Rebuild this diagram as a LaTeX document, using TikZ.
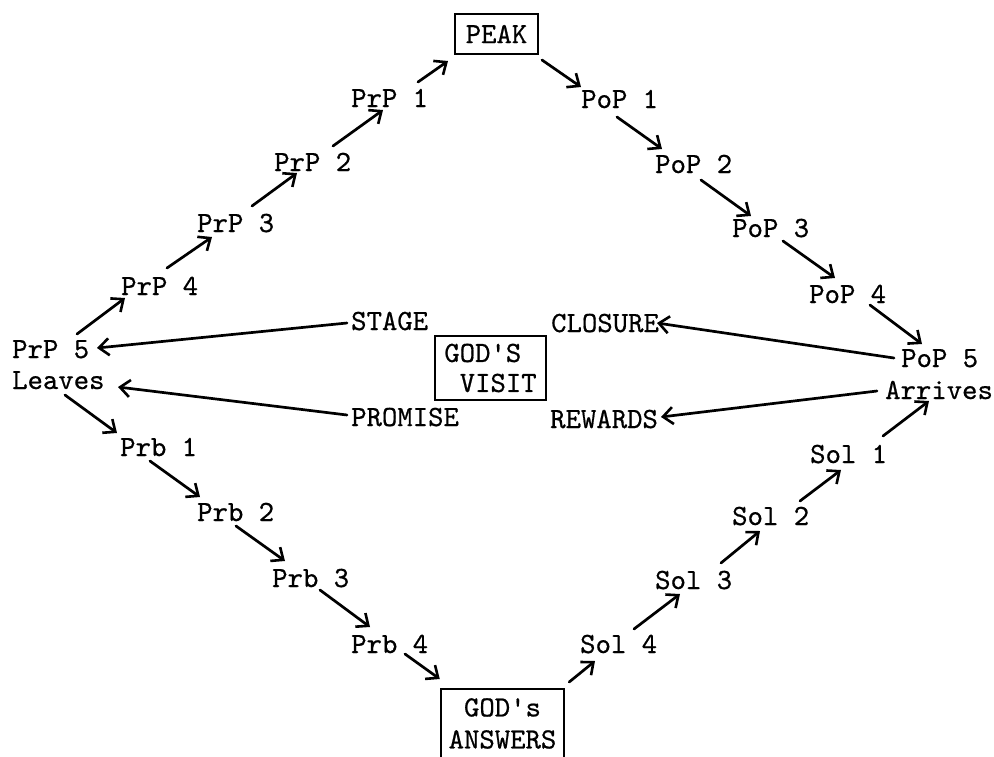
\documentclass[tikz,border=0pt]{standalone}
\usepackage{fontspec}
\newfontfamily\typer{lmmono10-regular.otf}[FakeBold=0.6]
\usetikzlibrary{arrows.meta}

\tikzset{
  lbl/.style={anchor=base west, inner sep=0pt, font=\fontsize{29.3}{31}\typer},
  framed/.style={draw, line width=2.4pt, inner sep=0pt},
  link/.style={line width=2.7pt, line cap=round,
    -{Straight Barb[length=10pt,width=17pt,line width=2.6pt]}},
}

\begin{document}
\begin{tikzpicture}[x=1pt,y=-1pt]
  \useasboundingbox (0,0) rectangle (994,756);
  \fill[white] (0,0) rectangle (994,756);

  % boxed stations
  \node[framed, minimum width=83pt, minimum height=40pt,
        font=\fontsize{29.3}{31}\typer] (peak) at (496.5,34) {PEAK};
  \node[framed, minimum width=111pt, minimum height=64pt, align=left,
        font=\fontsize{29.3}{30}\typer] (visit) at (490.5,368) {GOD'S\\\ VISIT};
  \node[framed, anchor=north, minimum width=123pt, inner ysep=9pt, align=center,
        font=\fontsize{29.3}{32}\typer] (answers) at (502.5,688) {GOD's\\ANSWERS};

  % ascending left side
  \node[lbl] (prp1) at (351,107) {PrP 1};
  \node[lbl] (prp2) at (274,171) {PrP 2};
  \node[lbl] (prp3) at (197,232) {PrP 3};
  \node[lbl] (prp4) at (121,295) {PrP 4};
  \node[lbl] (prp5) at (12,358) {PrP 5};
  \node[lbl] (leaves) at (12,389) {Leaves};

  % descending right side
  \node[lbl] (pop1) at (581,108) {PoP 1};
  \node[lbl] (pop2) at (655,173) {PoP 2};
  \node[lbl] (pop3) at (732,237) {PoP 3};
  \node[lbl] (pop4) at (809,303) {PoP 4};
  \node[lbl] (pop5) at (901,367) {PoP 5};
  \node[lbl] (arrives) at (885,399) {Arrives};

  % middle labels
  \node[lbl] (stage) at (351,330) {STAGE};
  \node[lbl] (promise) at (351,426) {PROMISE};
  \node[lbl] (closure) at (551,332) {CLOSURE};
  \node[lbl] (rewards) at (550,428) {REWARDS};

  % lower left side
  \node[lbl] (prb1) at (120,456) {Prb 1};
  \node[lbl] (prb2) at (197,521) {Prb 2};
  \node[lbl] (prb3) at (272,587) {Prb 3};
  \node[lbl] (prb4) at (351,653) {Prb 4};

  % lower right side
  \node[lbl] (sol1) at (810,463) {Sol 1};
  \node[lbl] (sol2) at (732,525) {Sol 2};
  \node[lbl] (sol3) at (655,589) {Sol 3};
  \node[lbl] (sol4) at (580,653) {Sol 4};

  % climb to the peak
  \draw[link] ([shift={(65,-24)}]prp5.base west) -- ([shift={(4,3)}]prp4.base west);
  \draw[link] ([shift={(46,-27)}]prp4.base west) -- ([shift={(15,5)}]prp3.base west);
  \draw[link] ([shift={(55,-26)}]prp3.base west) -- ([shift={(23,2)}]prp2.base west);
  \draw[link] ([shift={(59,-25)}]prp2.base west) -- ([shift={(32,3)}]prp1.base west);
  \draw[link] ([shift={(67,-25)}]prp1.base west) -- ([shift={(-48.5,27)}]peak.center);

  % descent from the peak
  \draw[link] ([shift={(45.5,26)}]peak.center) -- ([shift={(0,-21)}]pop1.base west);
  \draw[link] ([shift={(36,9)}]pop1.base west) -- ([shift={(7,-24)}]pop2.base west);
  \draw[link] ([shift={(46,7)}]pop2.base west) -- ([shift={(19,-21)}]pop3.base west);
  \draw[link] ([shift={(51,4)}]pop3.base west) -- ([shift={(26,-25)}]pop4.base west);
  \draw[link] ([shift={(61,2)}]pop4.base west) -- ([shift={(21,-23)}]pop5.base west);

  % links across the middle
  \draw[link] ([shift={(-7,-9)}]pop5.base west) -- ([shift={(106,-9)}]closure.base west);
  \draw[link] ([shift={(-8,-8)}]arrives.base west) -- ([shift={(111,-11)}]rewards.base west);
  \draw[link] ([shift={(-4,-7)}]stage.base west) -- ([shift={(85,-10)}]prp5.base west);
  \draw[link] ([shift={(-4,-11)}]promise.base west) -- ([shift={(106,-2)}]leaves.base west);

  % problems down to the answers
  \draw[link] ([shift={(53,6)}]leaves.base west) -- ([shift={(-3,-23)}]prb1.base west);
  \draw[link] ([shift={(30,5)}]prb1.base west) -- ([shift={(3,-24)}]prb2.base west);
  \draw[link] ([shift={(39,5)}]prb2.base west) -- ([shift={(13,-26)}]prb3.base west);
  \draw[link] ([shift={(48,3)}]prb3.base west) -- ([shift={(19,-26)}]prb4.base west);
  \draw[link] ([shift={(54,1)}]prb4.base west) -- ([shift={(0,-9)}]answers.north west);

  % solutions back up to the arrival
  \draw[link] ([shift={(4,-6)}]answers.north east) -- ([shift={(15,8)}]sol4.base west);
  \draw[link] ([shift={(54,-24)}]sol4.base west) -- ([shift={(25,5)}]sol3.base west);
  \draw[link] ([shift={(66,-26)}]sol3.base west) -- ([shift={(28,6)}]sol2.base west);
  \draw[link] ([shift={(68,-24)}]sol2.base west) -- ([shift={(31,7)}]sol1.base west);
  \draw[link] ([shift={(73,-27)}]sol1.base west) -- ([shift={(44,2)}]arrives.base west);
\end{tikzpicture}
\end{document}
